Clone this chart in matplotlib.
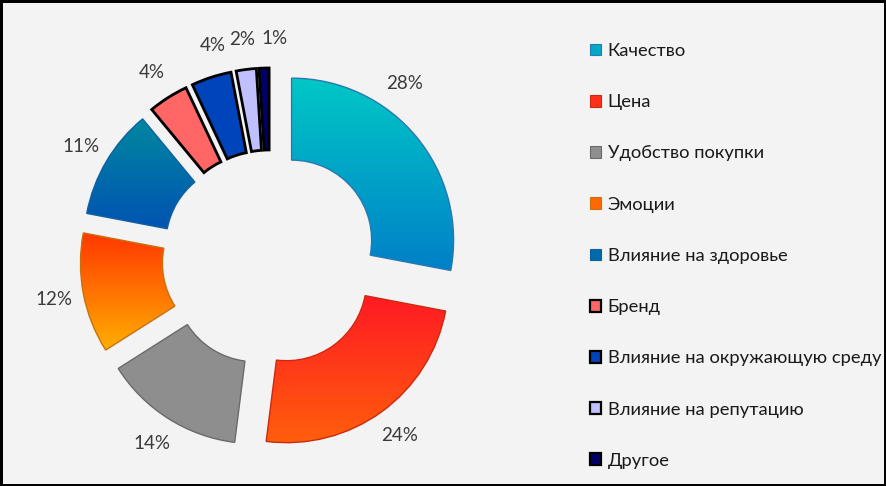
import numpy as np
import matplotlib.pyplot as plt
from matplotlib.patches import Patch
from matplotlib.colors import LinearSegmentedColormap

categories = ["Качество", "Цена", "Удобство покупки", "Эмоции", "Влияние на здоровье",
              "Бренд", "Влияние на окружающую среду", "Влияние на репутацию", "Другое"]
values = [28, 24, 14, 12, 11, 4, 4, 2, 1]

# top / bottom colour of each wedge's vertical gradient
top_colors = ["#00c8c6", "#ff1a24", "#8e8e8e", "#ff3600", "#0088a0",
              "#ff6666", "#0044bb", "#c0c0ff", "#000066"]
bottom_colors = ["#0080c8", "#ff5e0c", "#8e8e8e", "#ffae00", "#0052b2",
                 "#ff6666", "#0044bb", "#c0c0ff", "#000066"]
legend_colors = ["#00a8c8", "#ff3018", "#8e8e8e", "#ff6a00", "#006aaa",
                 "#ff6666", "#0044bb", "#c0c0ff", "#000066"]
edge_colors = ["#2a78b0", "#cc2a10", "#6a6a6a", "#c87010", "#1060a0",
               "black", "black", "black", "black"]
edge_widths = [1, 1, 1, 1, 1, 2, 2, 2, 2]

plt.rcParams['font.family'] = ['Lato', 'DejaVu Sans']

W, H = 886, 486
fig = plt.figure(figsize=(W / 100, H / 100), dpi=100)
fig.patch.set_facecolor("#f3f3f3")
fig.patch.set_edgecolor("black")
fig.patch.set_linewidth(2.5)

R = 162          # outer radius in px
cx, cy = 270, 258
span = 1.6
side = 2 * span * R
ax = fig.add_axes([(cx - side / 2) / W, (H - cy - side / 2) / H, side / W, side / H])
ax.set_facecolor("none")

expl = 0.173
pctd = 1.185
wedges, texts, autotexts = ax.pie(
    values, startangle=90, counterclock=False, radius=1,
    explode=[expl] * len(values), autopct='%1.0f%%', pctdistance=pctd,
    wedgeprops=dict(width=0.506), textprops=dict(color="#3a3a3a", fontsize=13.5))

for i, w in enumerate(wedges):
    w.set_facecolor("none")
    w.set_edgecolor(edge_colors[i])
    w.set_linewidth(edge_widths[i])
    w.set_zorder(2)
    ext = w.get_path().get_extents()
    cmap = LinearSegmentedColormap.from_list("g%d" % i, [top_colors[i], bottom_colors[i]])
    grad = np.linspace(0, 1, 256).reshape(-1, 1)
    im = ax.imshow(grad, cmap=cmap, aspect="auto", origin="upper",
                   extent=(ext.x0, ext.x1, ext.y0, ext.y1), zorder=1,
                   interpolation="bilinear")
    im.set_clip_path(w)

# Excel nudges a few labels sideways so they don't collide
for idx, ang in [(0, 52.4), (6, 105.0), (8, 88.7)]:
    a = np.deg2rad(ang)
    dist = expl + pctd
    autotexts[idx].set_position((dist * np.cos(a), dist * np.sin(a)))

ax.set_xlim(-span, span)
ax.set_ylim(-span, span)
ax.set_aspect("equal")
ax.axis("off")

handles = [Patch(facecolor=legend_colors[i], edgecolor=edge_colors[i],
                 linewidth=edge_widths[i] * 0.8)
           for i in range(len(categories))]

fig.legend(handles, categories, loc="upper left", bbox_to_anchor=(590 / W, 1 - 43 / H),
           frameon=False, fontsize=13.25, labelcolor="#1a1a1a", handlelength=0.62,
           handleheight=0.62, handletextpad=0.35, labelspacing=1.915, borderpad=0,
           borderaxespad=0)

fig.savefig("out.png", dpi=100, facecolor=fig.get_facecolor(), edgecolor=fig.get_edgecolor())
